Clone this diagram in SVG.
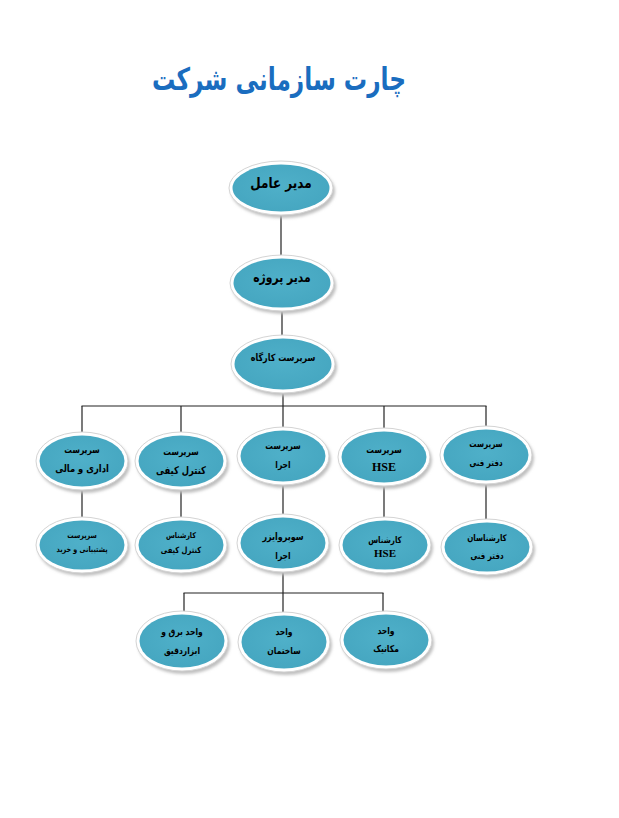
<svg xmlns="http://www.w3.org/2000/svg" width="619" height="818" viewBox="0 0 619 818">
<defs>
<style>
.rim{fill:#ffffff;stroke:#d4d4d4;stroke-width:1}
.fill{fill:url(#g)}
.sh{fill:#bfbfbf;filter:url(#blur)}
.t{font-family:"DejaVu Sans",sans-serif;font-weight:bold;fill:#000;text-anchor:middle;transform:scale(0.8,1)}
.e{font-family:"Liberation Serif",serif;font-weight:bold;fill:#000;text-anchor:middle}
.c line{stroke:#222;stroke-width:1.2}
</style>
<radialGradient id="g" cx="50%" cy="45%" r="60%">
<stop offset="0" stop-color="#4fb0c9"/>
<stop offset="1" stop-color="#45a6c0"/>
</radialGradient>
<filter id="blur" x="-20%" y="-20%" width="140%" height="140%"><feGaussianBlur stdDeviation="1.5"/></filter>
</defs>
<rect width="619" height="818" fill="#ffffff"/>
<text transform="translate(279,90) scale(0.75,1)" font-family="DejaVu Sans,sans-serif" font-weight="bold" font-size="31" fill="#1a6dbf" text-anchor="middle">چارت سازمانی شرکت</text>

<g class="c" id="connectors">
<line x1="281" y1="215" x2="281" y2="256"/>
<line x1="282" y1="311" x2="282" y2="336"/>
<line x1="283" y1="393" x2="283" y2="406"/>
<line x1="81.5" y1="406" x2="486.5" y2="406"/>
<line x1="82" y1="406" x2="82" y2="432"/>
<line x1="181" y1="406" x2="181" y2="433"/>
<line x1="283" y1="406" x2="283" y2="428"/>
<line x1="384" y1="406" x2="384" y2="429"/>
<line x1="486" y1="406" x2="486" y2="427"/>
<line x1="82" y1="489" x2="82" y2="518"/>
<line x1="181" y1="490" x2="181" y2="518"/>
<line x1="283" y1="485" x2="283" y2="516"/>
<line x1="384" y1="486" x2="384" y2="518"/>
<line x1="486" y1="484" x2="486" y2="520"/>
<line x1="283" y1="571" x2="283" y2="593"/>
<line x1="183.5" y1="593" x2="383.5" y2="593"/>
<line x1="184" y1="593" x2="184" y2="612"/>
<line x1="283" y1="593" x2="283" y2="612"/>
<line x1="383" y1="593" x2="383" y2="612"/>
</g>

<g id="n1" transform="translate(281,188)">
<ellipse class="sh" cx="2" cy="3" rx="52" ry="27"/><ellipse class="rim" rx="52" ry="27"/><ellipse class="fill" rx="48.5" ry="23.5"/>
<text class="t" y="0" font-size="15">مدیر عامل</text>
</g>
<g id="n2" transform="translate(282,283)">
<ellipse class="sh" cx="2" cy="3" rx="52" ry="28"/><ellipse class="rim" rx="52" ry="28"/><ellipse class="fill" rx="48.5" ry="24.5"/>
<text class="t" y="-1" font-size="13.5">مدیر پروژه</text>
</g>
<g id="n3" transform="translate(283,364)">
<ellipse class="sh" cx="2" cy="3" rx="52" ry="29"/><ellipse class="rim" rx="52" ry="29"/><ellipse class="fill" rx="48.5" ry="25.5"/>
<text class="t" y="-3" font-size="10">سرپرست کارگاه</text>
</g>

<g id="n4" transform="translate(82,461)">
<ellipse class="sh" cx="2" cy="3" rx="46" ry="29"/><ellipse class="rim" rx="46" ry="29"/><ellipse class="fill" rx="42.5" ry="25.5"/>
<text class="t" y="-8" font-size="9.5">سرپرست</text>
<text class="t" y="11" font-size="10.5">اداری و مالی</text>
</g>
<g id="n5" transform="translate(181,461)">
<ellipse class="sh" cx="2" cy="3" rx="46" ry="29"/><ellipse class="rim" rx="46" ry="29"/><ellipse class="fill" rx="42.5" ry="25.5"/>
<text class="t" y="-6" font-size="9.5">سرپرست</text>
<text class="t" y="13" font-size="10.5">کنترل کیفی</text>
</g>
<g id="n6" transform="translate(283,456)">
<ellipse class="sh" cx="2" cy="3" rx="46" ry="29"/><ellipse class="rim" rx="46" ry="29"/><ellipse class="fill" rx="42.5" ry="25.5"/>
<text class="t" y="-7" font-size="9.5">سرپرست</text>
<text class="t" y="12" font-size="9.5">اجرا</text>
</g>
<g id="n7" transform="translate(384,457)">
<ellipse class="sh" cx="2" cy="3" rx="46" ry="29"/><ellipse class="rim" rx="46" ry="29"/><ellipse class="fill" rx="42.5" ry="25.5"/>
<text class="t" y="-4" font-size="9.5">سرپرست</text>
<text class="e" y="14" font-size="12">HSE</text>
</g>
<g id="n8" transform="translate(486,455)">
<ellipse class="sh" cx="2" cy="3" rx="46" ry="29"/><ellipse class="rim" rx="46" ry="29"/><ellipse class="fill" rx="42.5" ry="25.5"/>
<text class="t" y="-8" font-size="9">سرپرست</text>
<text class="t" y="11" font-size="9">دفتر فنی</text>
</g>

<g id="n9" transform="translate(82,545)">
<ellipse class="sh" cx="2" cy="3" rx="46" ry="28"/><ellipse class="rim" rx="46" ry="28"/><ellipse class="fill" rx="42.5" ry="24.5"/>
<text class="t" y="-7" font-size="8">سرپرست</text>
<text class="t" y="7" font-size="8">پشتیبانی و خرید</text>
</g>
<g id="n10" transform="translate(181,545)">
<ellipse class="sh" cx="2" cy="3" rx="46" ry="28"/><ellipse class="rim" rx="46" ry="28"/><ellipse class="fill" rx="42.5" ry="24.5"/>
<text class="t" y="-7" font-size="8">کارشناس</text>
<text class="t" y="8" font-size="8.5">کنترل کیفی</text>
</g>
<g id="n11" transform="translate(283,543)">
<ellipse class="sh" cx="2" cy="3" rx="46" ry="29"/><ellipse class="rim" rx="46" ry="29"/><ellipse class="fill" rx="42.5" ry="25.5"/>
<text class="t" y="-3" font-size="10">سوپروایزر</text>
<text class="t" y="16" font-size="9.5">اجرا</text>
</g>
<g id="n12" transform="translate(385,545)">
<ellipse class="sh" cx="2" cy="3" rx="46" ry="28"/><ellipse class="rim" rx="46" ry="28"/><ellipse class="fill" rx="42.5" ry="24.5"/>
<text class="t" y="-2" font-size="9">کارشناس</text>
<text class="e" y="12" font-size="11">HSE</text>
</g>
<g id="n13" transform="translate(487,547)">
<ellipse class="sh" cx="2" cy="3" rx="46" ry="28"/><ellipse class="rim" rx="46" ry="28"/><ellipse class="fill" rx="42.5" ry="24.5"/>
<text class="t" y="-6" font-size="9">کارشناسان</text>
<text class="t" y="12" font-size="9">دفتر فنی</text>
</g>

<g id="n14" transform="translate(182,641)">
<ellipse class="sh" cx="2" cy="3" rx="46" ry="30"/><ellipse class="rim" rx="46" ry="30"/><ellipse class="fill" rx="42.5" ry="26.5"/>
<text class="t" y="-6" font-size="9.5">واحد برق و</text>
<text class="t" y="13" font-size="9.5">ابزاردقیق</text>
</g>
<g id="n15" transform="translate(284,642)">
<ellipse class="sh" cx="2" cy="3" rx="46" ry="30"/><ellipse class="rim" rx="46" ry="30"/><ellipse class="fill" rx="42.5" ry="26.5"/>
<text class="t" y="-7" font-size="9.5">واحد</text>
<text class="t" y="12" font-size="9.5">ساختمان</text>
</g>
<g id="n16" transform="translate(386,640)">
<ellipse class="sh" cx="2" cy="3" rx="46" ry="29"/><ellipse class="rim" rx="46" ry="29"/><ellipse class="fill" rx="42.5" ry="25.5"/>
<text class="t" y="-6" font-size="9.5">واحد</text>
<text class="t" y="12" font-size="9.5">مکانیک</text>
</g>
</svg>
